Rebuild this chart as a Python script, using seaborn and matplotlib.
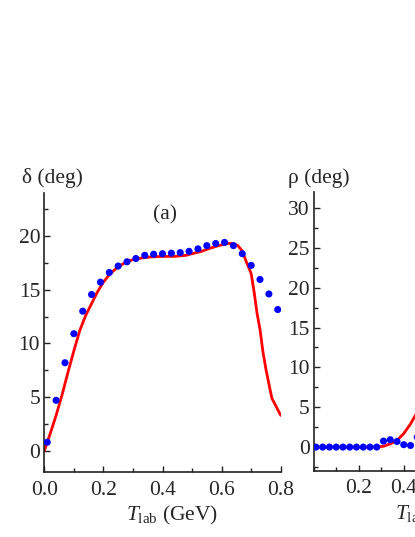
import numpy as np
import pandas as pd
import matplotlib
matplotlib.use("Agg")
import matplotlib.pyplot as plt
import seaborn as sns
from matplotlib.ticker import MultipleLocator, FixedLocator

# ---- data ----
T_pts = [0.01, 0.04, 0.07, 0.10, 0.13, 0.16, 0.19, 0.22, 0.25, 0.28, 0.31, 0.34,
         0.37, 0.40, 0.43, 0.46, 0.49, 0.52, 0.55, 0.58, 0.61, 0.64, 0.67, 0.70,
         0.73, 0.76, 0.79]
delta_pts = [0.8, 4.7, 8.2, 10.9, 13.0, 14.55, 15.7, 16.6, 17.2, 17.6, 17.9, 18.2,
             18.3, 18.35, 18.4, 18.45, 18.57, 18.8, 19.1, 19.3, 19.4, 19.1, 18.35, 17.26,
             15.95, 14.6, 13.15]
T_fit_a = [0.0, 0.02, 0.04, 0.06, 0.08, 0.10, 0.12, 0.14, 0.16, 0.18, 0.20, 0.22,
           0.24, 0.26, 0.28, 0.30, 0.33, 0.36, 0.40, 0.44, 0.48, 0.50, 0.53, 0.56,
           0.59, 0.62, 0.64, 0.655, 0.67, 0.685, 0.70, 0.71, 0.72, 0.73, 0.74, 0.75,
           0.77, 0.80]
delta_fit = [0.0, 1.6, 3.3, 5.2, 7.3, 9.3, 11.2, 12.6, 13.7, 14.8, 15.7, 16.4,
             16.9, 17.3, 17.6, 17.8, 17.95, 18.05, 18.1, 18.1, 18.2, 18.35, 18.55, 18.85,
             19.1, 19.3, 19.3, 19.1, 18.6, 17.5, 16.5, 14.8, 12.8, 11.3, 9.2, 7.6,
             4.9, 3.3]

T_pts_b = [0.01, 0.04, 0.07, 0.10, 0.13, 0.16, 0.19, 0.22, 0.25, 0.28, 0.31, 0.34,
           0.37, 0.40, 0.43, 0.46]
rho_pts = [0, 0, 0, 0, 0, 0, 0, 0, 0, 0, 0.75, 0.92, 0.7, 0.3, 0.2, 1.25]
T_fit_b = [0.0, 0.05, 0.10, 0.15, 0.20, 0.25, 0.28, 0.31, 0.34, 0.37, 0.40, 0.43, 0.46, 0.48]
rho_fit = [0, 0, 0, 0, 0, 0, 0, 0.1, 0.4, 0.85, 1.7, 2.9, 4.4, 5.5]

# ---- style ----
sns.set_style("ticks")
plt.rcParams['font.family'] = ['Liberation Serif', 'DejaVu Serif']
plt.rcParams['mathtext.fontset'] = 'custom'
plt.rcParams['mathtext.rm'] = 'Liberation Serif'
plt.rcParams['mathtext.it'] = 'Liberation Serif:italic'
FS = 15.5

fig = plt.figure(figsize=(4.15, 5.37), dpi=100)
W, H = 415, 537

def add_ax(x0, x1, ytop, ybot):
    return fig.add_axes([x0 / W, 1 - ybot / H, (x1 - x0) / W, (ybot - ytop) / H])

axa = add_ax(44.3, 280.7, 193, 472.3)
axb = add_ax(313.7, 313.7 + 236.4, 192, 471)

for ax in (axa, axb):
    for s in ('top', 'right'):
        ax.spines[s].set_visible(False)
    for s in ('left', 'bottom'):
        ax.spines[s].set_linewidth(1.2)
        ax.spines[s].set_color('#222222')
    ax.tick_params(which='both', direction='in', labelsize=FS, color='#222222', width=1.0)
    ax.tick_params(which='major', length=4.5)
    ax.tick_params(which='minor', length=3)
    ax.tick_params(axis='x', pad=6)
    ax.tick_params(axis='y', pad=3)
    ax.xaxis.set_minor_locator(MultipleLocator(0.1))
    ax.yaxis.set_minor_locator(MultipleLocator(2.5))
    ax.yaxis.set_major_locator(MultipleLocator(5))

# panel a
sns.lineplot(x=T_fit_a, y=delta_fit, ax=axa, color='red', lw=2.0, sort=False,
             estimator=None, zorder=2)
sns.scatterplot(x=T_pts, y=delta_pts, ax=axa, color='blue', s=26, edgecolor='none',
                zorder=3)
axa.set_xlim(0, 0.8)
axa.set_ylim(-2, 24)
axa.xaxis.set_major_locator(MultipleLocator(0.2))
axa.set_xticklabels([f"{v:.1f}" for v in axa.get_xticks()])
axa.set_xlabel(r"$T_{\rm lab}$ (GeV)", fontsize=FS, labelpad=1)
axa.xaxis.set_label_coords(0.54, -0.113)
axa.set_ylabel("")
axa.text(0.408, 22.0, "(a)", fontsize=FS, ha='center', va='center')

# panel b
sns.lineplot(x=T_fit_b, y=rho_fit, ax=axb, color='red', lw=2.0, sort=False,
             estimator=None, zorder=2)
sns.scatterplot(x=T_pts_b, y=rho_pts, ax=axb, color='blue', s=26, edgecolor='none',
                zorder=3)
axb.set_xlim(0, 1.05)
axb.set_ylim(-3, 32)
axb.xaxis.set_major_locator(FixedLocator([0.2, 0.4, 0.6, 0.8, 1.0]))
axb.set_xticklabels(["0.2", "0.4", "0.6", "0.8", "1.0"])
axb.set_xlabel(r"$T_{\rm lab}$ (GeV)", fontsize=FS, labelpad=1)
axb.xaxis.set_label_coords(0.54, -0.113)
axb.set_ylabel("")

fig.text(52 / W, 1 - 178 / H, "δ (deg)", fontsize=FS, ha='center', va='center')
fig.text(319 / W, 1 - 178 / H, "ρ (deg)", fontsize=FS, ha='center', va='center')

fig.savefig("out.png", dpi=100)
